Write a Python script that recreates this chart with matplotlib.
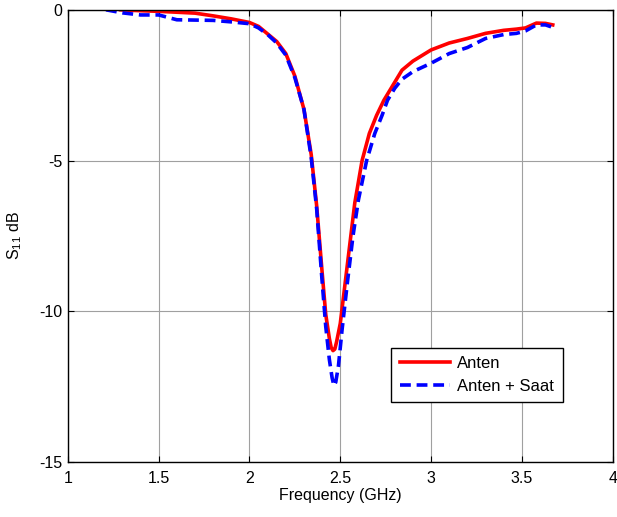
import matplotlib
matplotlib.use("Agg")
import matplotlib.pyplot as plt

# S11 of the antenna alone
freq_anten = [1.29, 1.40, 1.50, 1.60, 1.70, 1.80, 1.90, 2.00, 2.05, 2.10, 2.15,
              2.20, 2.25, 2.30, 2.34, 2.37, 2.40, 2.42, 2.44, 2.45, 2.46, 2.47,
              2.48, 2.50, 2.53, 2.56, 2.58, 2.62, 2.66, 2.70, 2.74, 2.80, 2.84,
              2.90, 3.00, 3.10, 3.20, 3.30, 3.40, 3.47, 3.52, 3.58, 3.63, 3.67]
s11_anten = [0.0, -0.03, -0.05, -0.08, -0.11, -0.2, -0.3, -0.42, -0.55, -0.8, -1.05,
             -1.45, -2.2, -3.3, -4.8, -6.5, -8.7, -10.1, -10.9, -11.2, -11.3, -11.25,
             -11.0, -10.4, -8.9, -7.4, -6.4, -5.0, -4.1, -3.5, -3.0, -2.4, -2.0,
             -1.7, -1.33, -1.1, -0.95, -0.78, -0.68, -0.64, -0.6, -0.44, -0.45, -0.5]

# S11 of the antenna with the watch
freq_saat = [1.21, 1.30, 1.40, 1.50, 1.55, 1.60, 1.70, 1.80, 1.90, 2.00, 2.05,
             2.10, 2.15, 2.20, 2.25, 2.30, 2.34, 2.37, 2.40, 2.42, 2.44, 2.455,
             2.465, 2.475, 2.49, 2.51, 2.54, 2.57, 2.60, 2.645, 2.69, 2.73, 2.76,
             2.80, 2.84, 2.90, 3.00, 3.10, 3.20, 3.30, 3.40, 3.47, 3.52, 3.58,
             3.63, 3.67]
s11_saat = [0.0, -0.1, -0.17, -0.17, -0.25, -0.33, -0.34, -0.35, -0.4, -0.46, -0.6,
            -0.82, -1.1, -1.5, -2.25, -3.3, -4.9, -6.6, -9.0, -10.5, -11.6, -12.2,
            -12.46, -12.35, -11.8, -10.6, -9.0, -7.5, -6.3, -5.0, -4.1, -3.5, -3.0,
            -2.6, -2.3, -2.05, -1.77, -1.45, -1.25, -0.95, -0.82, -0.78, -0.7, -0.5,
            -0.5, -0.58]

xticks = [1, 1.5, 2, 2.5, 3, 3.5, 4]
xticklabels = ["1", "1.5", "2", "2.5", "3", "3.5", "4"]
yticks = [-15, -10, -5, 0]
yticklabels = ["-15", "-10", "-5", "0"]

plt.rcParams["font.family"] = ["Liberation Sans", "DejaVu Sans"]
plt.rcParams["mathtext.fontset"] = "custom"
plt.rcParams["mathtext.rm"] = "Liberation Sans"
plt.rcParams["mathtext.it"] = "Liberation Sans:italic"
plt.rcParams["mathtext.default"] = "rm"
plt.rcParams["axes.unicode_minus"] = False

fig = plt.figure(figsize=(6.17, 5.17), dpi=100)
ax = fig.add_axes([0.110, 0.106, 0.883, 0.875])

ax.plot(freq_anten, s11_anten, color="red", lw=2.6, label="Anten")
ax.plot(freq_saat, s11_saat, color="blue", lw=2.6, ls=(0, (3, 1.6)),
        label="Anten + Saat")

ax.set_xlim(1, 4)
ax.set_ylim(-15, 0)
ax.set_xticks(xticks)
ax.set_xticklabels(xticklabels)
ax.set_yticks(yticks)
ax.set_yticklabels(yticklabels)
ax.grid(True, color="#a0a0a0", lw=0.8)
ax.set_axisbelow(True)
ax.tick_params(direction="in", top=True, right=True, labelsize=11.5, length=4)
ax.tick_params(axis="x", pad=6)
ax.tick_params(axis="y", pad=4)
for sp in ax.spines.values():
    sp.set_linewidth(1.0)

ax.set_xlabel("Frequency (GHz)", fontsize=11.5, labelpad=2)
ax.set_ylabel("S$_{11}$ dB", fontsize=11.5)
ax.yaxis.set_label_coords(-0.081, 0.5)

leg = ax.legend(loc="upper left", bbox_to_anchor=(0.594, 0.253), fontsize=12,
                fancybox=False, edgecolor="black", framealpha=1,
                handlelength=3.0, handletextpad=0.45, borderpad=0.5,
                labelspacing=0.45, borderaxespad=0)
leg.get_frame().set_linewidth(1.0)

fig.savefig("out.png", dpi=100)
